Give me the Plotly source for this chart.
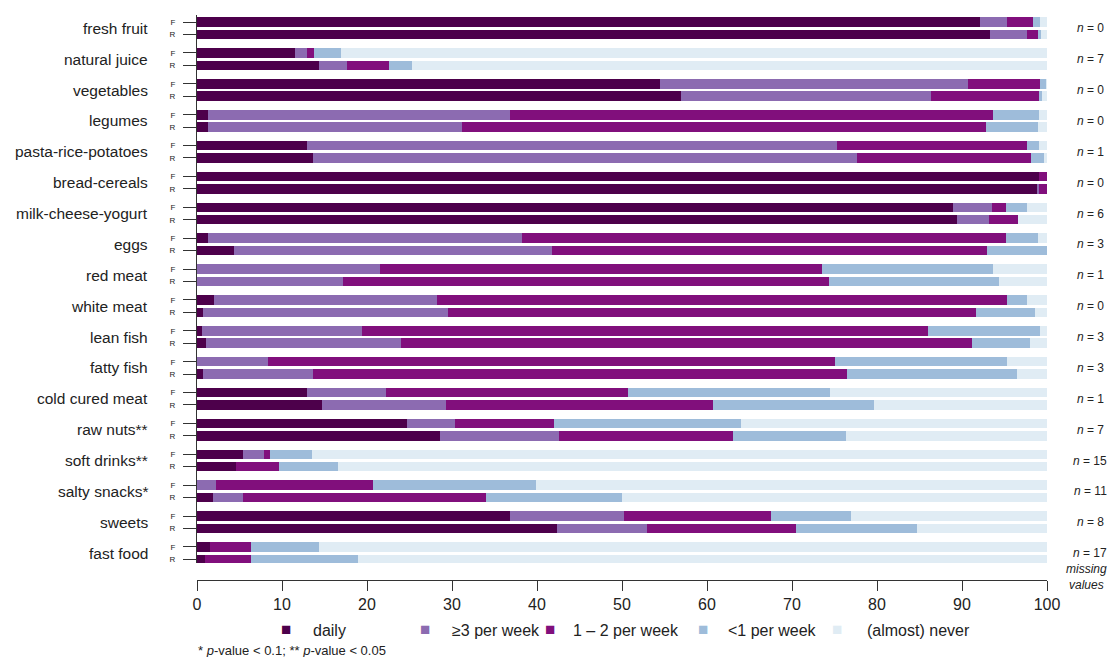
import plotly.graph_objects as go

foods = ["fresh fruit", "natural juice", "vegetables", "legumes", "pasta-rice-potatoes",
         "bread-cereals", "milk-cheese-yogurt", "eggs", "red meat", "white meat",
         "lean fish", "fatty fish", "cold cured meat", "raw nuts**", "soft drinks**",
         "salty snacks*", "sweets", "fast food"]
missing_n = [0, 7, 0, 0, 1, 0, 6, 3, 1, 0, 3, 3, 1, 7, 15, 11, 8, 17]

freq_labels = ["daily", "\u22653 per week", "1 \u2013 2 per week", "<1 per week", "(almost) never"]
colors = ["#4d004b", "#8c6bb1", "#810f7c", "#9ebcda", "#e0ecf4"]

# group F
daily_F   = [92.1, 11.5, 54.5, 1.3, 12.9, 99.1, 88.9, 1.3, 0.0, 2.0, 0.6, 0.0, 12.9, 24.7, 5.4, 0.0, 36.8, 1.5]
week3_F   = [3.2, 1.4, 36.2, 35.5, 62.4, 0.0, 4.6, 36.9, 21.5, 26.2, 18.8, 8.3, 9.3, 5.6, 2.5, 2.2, 13.4, 0.0]
week12_F  = [3.1, 0.9, 8.5, 56.9, 22.3, 0.9, 1.7, 57.0, 52.0, 67.1, 66.6, 66.8, 28.5, 11.7, 0.7, 18.5, 17.3, 4.8]
less1_F   = [0.8, 3.1, 0.7, 5.4, 1.5, 0.0, 2.4, 3.7, 20.2, 2.3, 13.2, 20.2, 23.8, 22.0, 4.9, 19.2, 9.4, 8.0]
never_F   = [0.8, 83.1, 0.1, 0.9, 0.9, 0.0, 2.4, 1.1, 6.3, 2.4, 0.8, 4.7, 25.5, 36.0, 86.5, 60.1, 23.1, 85.7]

# group R
daily_R   = [93.3, 14.4, 56.9, 1.3, 13.7, 98.9, 89.4, 4.4, 0.0, 0.7, 1.0, 0.7, 14.7, 28.6, 4.6, 1.9, 42.4, 0.9]
week3_R   = [4.3, 3.3, 29.5, 29.9, 63.9, 0.2, 3.8, 37.4, 17.2, 28.8, 23.0, 13.0, 14.6, 14.0, 0.0, 3.5, 10.5, 0.0]
week12_R  = [1.3, 4.9, 12.7, 61.6, 20.5, 0.9, 3.4, 51.1, 57.2, 62.1, 67.2, 62.8, 31.4, 20.4, 5.0, 28.6, 17.6, 5.5]
less1_R   = [0.4, 2.7, 0.3, 6.1, 1.5, 0.0, 0.0, 7.1, 20.0, 7.0, 6.8, 20.0, 18.9, 13.4, 7.0, 16.0, 14.2, 12.5]
never_R   = [0.7, 74.7, 0.6, 1.1, 0.4, 0.0, 3.4, 0.0, 5.6, 1.4, 2.0, 3.5, 20.4, 23.6, 83.4, 50.0, 15.3, 81.1]

series_F = [daily_F, week3_F, week12_F, less1_F, never_F]
series_R = [daily_R, week3_R, week12_R, less1_R, never_R]

# layout constants
W, H = 1113, 657
ML, MR, MT, MB = 197, 66, 15, 77
PW = W - ML - MR
PH = H - MT - MB
FONT = "Arial, Liberation Sans, sans-serif"

n = len(foods)
posF = [i - 0.2 for i in range(n)]
posR = [i + 0.2 for i in range(n)]

fig = go.Figure()
for k in range(5):
    fig.add_trace(go.Bar(
        orientation="h",
        y=posF + posR,
        x=series_F[k] + series_R[k],
        width=0.31,
        marker=dict(color=colors[k], line=dict(width=0)),
        name=freq_labels[k],
        showlegend=False,
        hoverinfo="x+name",
    ))

def px_x(p):
    return (p - ML) / PW

def px_y(p):
    return (MT + PH - p) / PH

annotations = []
for i, f in enumerate(foods):
    annotations.append(dict(x=px_x(150), y=i, xref="paper", yref="y", text=f,
                            showarrow=False, xanchor="right", yanchor="middle",
                            font=dict(family=FONT, size=15.5, color="#222")))
    annotations.append(dict(x=px_x(1090), y=i, xref="paper", yref="y",
                            text="<i>n</i> = %d" % missing_n[i],
                            showarrow=False, xanchor="center", yanchor="middle",
                            font=dict(family=FONT, size=12, color="#222")))

annotations.append(dict(x=px_x(1086), y=px_y(577), xref="paper", yref="paper",
                        text="<i>missing<br>values</i>", showarrow=False,
                        xanchor="center", yanchor="middle",
                        font=dict(family=FONT, size=12, color="#222")))

# custom legend
marker_px = [286, 425, 550, 703, 837]
text_px = [311, 450, 571, 726, 865]
for k in range(5):
    annotations.append(dict(x=px_x(marker_px[k]), y=px_y(629), xref="paper", yref="paper",
                            text="\u25A0", showarrow=False, xanchor="center", yanchor="middle",
                            font=dict(family=FONT, size=17, color=colors[k])))
    annotations.append(dict(x=px_x(text_px[k]), y=px_y(630), xref="paper", yref="paper",
                            text=freq_labels[k], showarrow=False, xanchor="left", yanchor="middle",
                            font=dict(family=FONT, size=16, color="#222")))

annotations.append(dict(x=px_x(196), y=px_y(650), xref="paper", yref="paper",
                        text="* <i>p</i>-value < 0.1; ** <i>p</i>-value < 0.05",
                        showarrow=False, xanchor="left", yanchor="middle",
                        font=dict(family=FONT, size=13, color="#222")))

fig.update_layout(
    width=W, height=H,
    margin=dict(l=ML, r=MR, t=MT, b=MB),
    barmode="stack",
    bargap=0,
    plot_bgcolor="white",
    paper_bgcolor="white",
    annotations=annotations,
    xaxis=dict(range=[0, 100], tickvals=list(range(0, 101, 10)),
               showline=True, linecolor="#333", linewidth=1,
               ticks="outside", ticklen=10, tickcolor="#333",
               showgrid=False, zeroline=False,
               anchor="free", position=0,
               tickfont=dict(family=FONT, size=16, color="#222")),
    yaxis=dict(range=[n - 1 + 0.32, -0.43], domain=[(580 - 563) / PH, 1],
               tickvals=posF + posR, ticktext=["F"] * n + ["R"] * n,
               showline=True, linecolor="#333", linewidth=1,
               ticks="outside", ticklen=13, tickcolor="#333",
               ticklabelstandoff=6,
               showgrid=False, zeroline=False,
               tickfont=dict(family=FONT, size=8, color="#222")),
)

fig.write_html(
    "out.html",
    config={"displayModeBar": False},
    post_script="document.documentElement.style.margin='0';document.body.style.margin='0';"
                "document.body.style.overflow='hidden';document.documentElement.style.overflow='hidden';",
)
